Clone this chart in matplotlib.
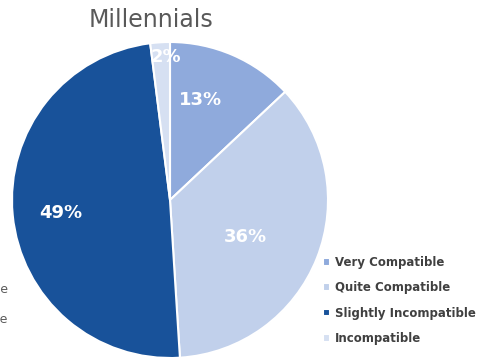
import matplotlib
matplotlib.use('Agg')
import matplotlib.pyplot as plt
import numpy as np

categories = ['Very Compatible', 'Quite Compatible',
              'Slightly Incompatible', 'Incompatible']
shares = [13, 36, 49, 2]
colors = ['#8FAADC', '#C1D0EB', '#18529A', '#D6E0F2']
# where each percentage sits: fraction of radius, and turn off the mid-angle (deg)
label_dist = [0.66, 0.53, 0.695, 0.905]
label_turn = [6.2, -4.7, 1.4, -2.0]
# neighbouring chart's legend, mostly off the left edge
side_labels = ['Slightly Incompatible', 'Incompatible']

fig = plt.figure(figsize=(4.8, 3.6), dpi=100)
W, H = 480.0, 360.0
ax = fig.add_axes([12 / W, (H - 358) / H, 316 / W, 316 / H])

wedges, texts, pcts = ax.pie(
    shares, colors=colors, startangle=90, counterclock=False,
    wedgeprops=dict(edgecolor='white', linewidth=1.5),
    autopct='%d%%', pctdistance=0.7,
    textprops=dict(color='white', fontsize=13, fontweight='bold'))

cum = np.cumsum([0] + shares)
for i, t in enumerate(pcts):
    mid = np.deg2rad(90 - (cum[i] + shares[i] / 2.0) * 3.6 + label_turn[i])
    t.set_position((label_dist[i] * np.cos(mid), label_dist[i] * np.sin(mid)))

ax.set_xlim(-1, 1)
ax.set_ylim(-1, 1)
ax.set_aspect('equal')
ax.axis('off')

fig.text(151 / W, 1 - 20 / H, 'Millennials', ha='center', va='center',
         fontsize=17, color='#595959')

leg = fig.legend(wedges, categories, loc='upper left',
                 bbox_to_anchor=(323 / W, 1 - 256 / H), frameon=False,
                 handlelength=0.6, handleheight=0.6, handletextpad=0.4,
                 labelspacing=1.05, borderaxespad=0, borderpad=0,
                 prop=dict(size=8.5, weight='bold'))
for t in leg.get_texts():
    t.set_color('#404040')

for k, s in enumerate(side_labels):
    fig.text(8 / W, 1 - (290 + 30 * k) / H, s, ha='right', va='center',
             fontsize=9, color='#595959')

fig.savefig('out.png', dpi=100)
